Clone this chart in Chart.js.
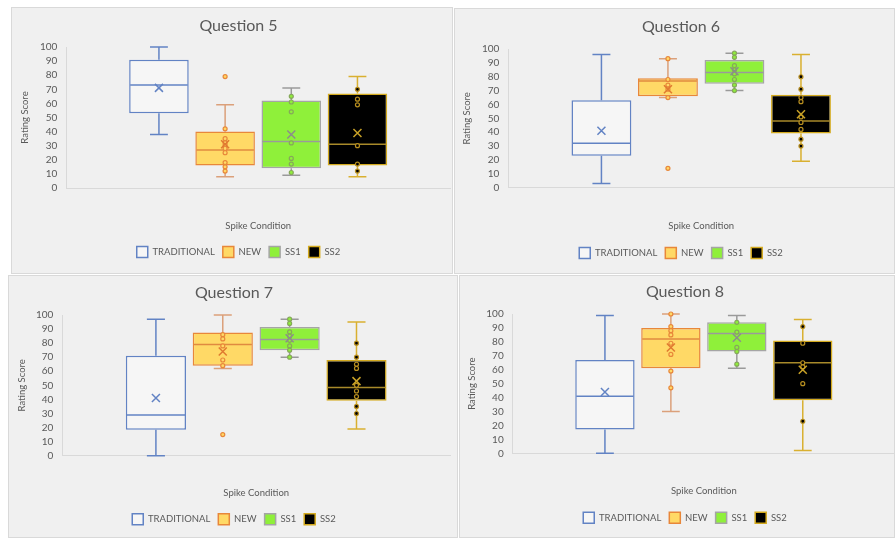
<!DOCTYPE html>
<html>
<head>
<meta charset="utf-8">
<script src="https://cdn.jsdelivr.net/npm/chart.js@4/dist/chart.umd.min.js"></script>
<style>
  html, body { margin: 0; padding: 0; background: #ffffff; }
  body { width: 895px; height: 538px; position: relative; overflow: hidden; }
  .panel { position: absolute; box-sizing: border-box; background: #f0f0f0; border: 1px solid #d9d9d9; }
  canvas { position: absolute; }
</style>
</head>
<body>
<div class="panel" style="left:11px;top:7px;width:442px;height:267px"></div>
<div class="panel" style="left:454px;top:8px;width:441px;height:266px"></div>
<div class="panel" style="left:8px;top:275px;width:450px;height:263px"></div>
<div class="panel" style="left:459px;top:275px;width:436px;height:263px"></div>
<canvas id="c5" style="left:11px;top:7px" width="442" height="267"></canvas>
<canvas id="c6" style="left:454px;top:8px" width="441" height="266"></canvas>
<canvas id="c7" style="left:8px;top:275px" width="450" height="263"></canvas>
<canvas id="c8" style="left:459px;top:275px" width="436" height="263"></canvas>
<script>
// Series (one box per series) and shared axis text
const seriesNames = ['TRADITIONAL', 'NEW', 'SS1', 'SS2'];
const xAxisTitle = 'Spike Condition';
const yAxisTitle = 'Rating Score';
const scoreTicks = [0, 10, 20, 30, 40, 50, 60, 70, 80, 90, 100];

// Question 5
const q5Min = [38, 8, 9, 8];
const q5Q1 = [53, 16, 14, 16];
const q5Median = [73, 27, 33, 31];
const q5Q3 = [91, 40, 62, 67];
const q5Max = [100, 59, 71, 79];
const q5Mean = [71, 31, 38, 39];
const q5Points = [[], [79, 42, 35, 32, 30, 28, 25, 18, 15, 12], [65, 61, 54, 32, 21, 17, 11], [70, 63, 59, 30, 17, 12]];

// Question 6
const q6Min = [3, 65, 70, 19];
const q6Q1 = [23, 66, 75, 39];
const q6Median = [32, 77, 83, 48];
const q6Q3 = [63, 79, 92, 67];
const q6Max = [96, 93, 97, 96];
const q6Mean = [41, 71, 84, 53];
const q6Points = [[], [93, 78, 74, 71, 65, 14], [97, 94, 88, 85, 82, 78, 74, 70], [80, 71, 65, 62, 51, 47, 42, 35, 30]];

// Question 7
const q7Min = [0, 62, 70, 19];
const q7Q1 = [18.5, 64, 75, 39];
const q7Median = [29, 79, 82.5, 48.5];
const q7Q3 = [71, 87.5, 91.5, 68];
const q7Max = [97, 100, 97, 95];
const q7Mean = [41, 74, 83.5, 53];
const q7Points = [[], [86, 83, 78, 68, 64, 15], [97, 94, 88, 85, 82, 78, 75, 70], [80, 70, 65, 62, 50, 46, 42, 35, 30]];

// Question 8
const q8Min = [0, 30, 61, 2];
const q8Q1 = [17, 61, 73, 38];
const q8Median = [41, 82, 86, 65];
const q8Q3 = [67, 90, 94, 81];
const q8Max = [99, 100, 99, 96];
const q8Mean = [44, 76, 83, 60];
const q8Points = [[], [100, 91, 88, 85, 79, 71, 59, 47], [94, 87, 76, 73, 64], [91, 79, 65, 62, 50, 23]];

// Series styling
const boxFill = ['#f6f6f6', '#ffd966', '#8ff03a', '#000000'];
const boxEdge = ['#6283c4', '#e8873a', '#a5a5a5', '#d4aa1e'];
const medianColor = ['#6283c4', '#e08a40', '#9a9a9a', '#a88a2a'];
const whiskerColor = ['#6283c4', '#dba07a', '#9a9a9a', '#d9b030'];
const meanColor = ['#6283c4', '#e07a30', '#8c8c8c', '#c9a227'];
const pointEdge = ['#6283c4', '#e8873a', '#86a85a', '#b88f20'];

const TEXT = '#595959';
Chart.defaults.font.family = 'Lato, "Open Sans", sans-serif';
Chart.defaults.color = TEXT;

// Whiskers, median, mean marker and individual scores, placed through the scales
const boxWhiskerPlugin = {
  id: 'boxWhisker',
  afterDatasetsDraw(chart) {
    const ctx = chart.ctx;
    const yScale = chart.scales.y;
    chart.data.datasets.forEach((ds, i) => {
      const bar = chart.getDatasetMeta(i).data[0];
      if (!bar) return;
      const st = ds.stats;
      const cx = bar.x;
      const half = bar.width / 2;
      const cap = bar.width * 0.15;
      const py = v => yScale.getPixelForValue(v);
      const [q1, q3] = ds.data[0];
      ctx.save();
      ctx.lineWidth = 1.5;
      ctx.lineCap = 'butt';
      // whiskers with caps
      ctx.strokeStyle = st.whisker;
      ctx.beginPath();
      ctx.moveTo(cx, py(q3)); ctx.lineTo(cx, py(st.max));
      ctx.moveTo(cx - cap, py(st.max)); ctx.lineTo(cx + cap, py(st.max));
      ctx.moveTo(cx, py(q1)); ctx.lineTo(cx, py(st.min));
      ctx.moveTo(cx - cap, py(st.min)); ctx.lineTo(cx + cap, py(st.min));
      ctx.stroke();
      // median
      ctx.strokeStyle = st.medianColor;
      ctx.beginPath();
      ctx.moveTo(cx - half + 1, py(st.median));
      ctx.lineTo(cx + half - 1, py(st.median));
      ctx.stroke();
      // individual scores
      ctx.lineWidth = 1.2;
      st.points.forEach(v => {
        ctx.beginPath();
        ctx.arc(cx, py(v), 2, 0, Math.PI * 2);
        ctx.fillStyle = ds.backgroundColor;
        ctx.fill();
        ctx.strokeStyle = st.pointEdge;
        ctx.stroke();
      });
      // mean marker
      const my = py(st.mean);
      const m = 4;
      ctx.lineWidth = 1.5;
      ctx.strokeStyle = st.meanColor;
      ctx.beginPath();
      ctx.moveTo(cx - m, my - m); ctx.lineTo(cx + m, my + m);
      ctx.moveTo(cx - m, my + m); ctx.lineTo(cx + m, my - m);
      ctx.stroke();
      ctx.restore();
    });
  }
};

function buildChart(id, title, mins, q1s, medians, q3s, maxs, means, points, f) {
  const datasets = seriesNames.map((name, i) => ({
    label: name,
    data: [[q1s[i], q3s[i]]],
    backgroundColor: boxFill[i],
    borderColor: boxEdge[i],
    borderWidth: 1.5,
    borderSkipped: false,
    categoryPercentage: 0.69,
    barPercentage: 0.9,
    stats: {
      min: mins[i], median: medians[i], max: maxs[i], mean: means[i], points: points[i],
      whisker: whiskerColor[i], medianColor: medianColor[i], meanColor: meanColor[i], pointEdge: pointEdge[i]
    }
  }));
  return new Chart(document.getElementById(id), {
    type: 'bar',
    data: { labels: [''], datasets },
    plugins: [boxWhiskerPlugin],
    options: {
      responsive: false,
      animation: false,
      events: [],
      layout: { padding: { left: f.padL, right: f.padR, top: 0, bottom: f.padB } },
      plugins: {
        tooltip: { enabled: false },
        title: {
          display: true, text: title, color: TEXT,
          font: { size: 16, weight: 'normal' },
          padding: { top: f.tTop, bottom: f.tBottom }
        },
        legend: {
          display: true, position: 'bottom',
          labels: { boxWidth: 11, boxHeight: 11, padding: 8, color: TEXT, font: { size: 9.5 } }
        }
      },
      scales: {
        x: {
          type: 'category',
          grid: { display: false, drawTicks: false },
          border: { display: true, color: '#d9d9d9', width: 1 },
          ticks: { display: false },
          title: { display: true, text: xAxisTitle, color: TEXT, font: { size: 9.5 },
                   padding: { top: f.xTop, bottom: f.xBottom } }
        },
        y: {
          min: 0, max: 100,
          afterBuildTicks: s => { s.ticks = scoreTicks.map(v => ({ value: v })); },
          grid: { display: false, drawTicks: false },
          border: { display: true, color: '#d9d9d9', width: 1 },
          ticks: { color: TEXT, font: { size: 10 }, padding: 9, autoSkip: false },
          title: { display: true, text: yAxisTitle, color: TEXT, font: { size: 9.5 },
                   padding: { top: f.yTop, bottom: f.yBottom } }
        }
      }
    }
  });
}

buildChart('c5', 'Question 5', q5Min, q5Q1, q5Median, q5Q3, q5Max, q5Mean, q5Points,
  { padL: 16, padR: 3, padB: 6.5, tTop: 9.4, tBottom: 11.4, xTop: 32.3, xBottom: 6.8, yTop: -7.7, yBottom: 0.3 });
buildChart('c6', 'Question 6', q6Min, q6Q1, q6Median, q6Q3, q6Max, q6Mean, q6Points,
  { padL: 14, padR: 1, padB: 5.5, tTop: 9.1, tBottom: 12.7, xTop: 32.3, xBottom: 8.1, yTop: -7.0, yBottom: 0.6 });
buildChart('c7', 'Question 7', q7Min, q7Q1, q7Median, q7Q3, q7Max, q7Mean, q7Points,
  { padL: 10, padR: 8, padB: 3.2, tTop: 8.7, tBottom: 12.1, xTop: 31.3, xBottom: 7.4, yTop: -2.0, yBottom: -0.4 });
buildChart('c8', 'Question 8', q8Min, q8Q1, q8Median, q8Q3, q8Max, q8Mean, q8Points,
  { padL: 16, padR: 0, padB: 4.8, tTop: 7.7, tBottom: 12.1, xTop: 31.7, xBottom: 7.8, yTop: -9.0, yBottom: -0.1 });
</script>
</body>
</html>
